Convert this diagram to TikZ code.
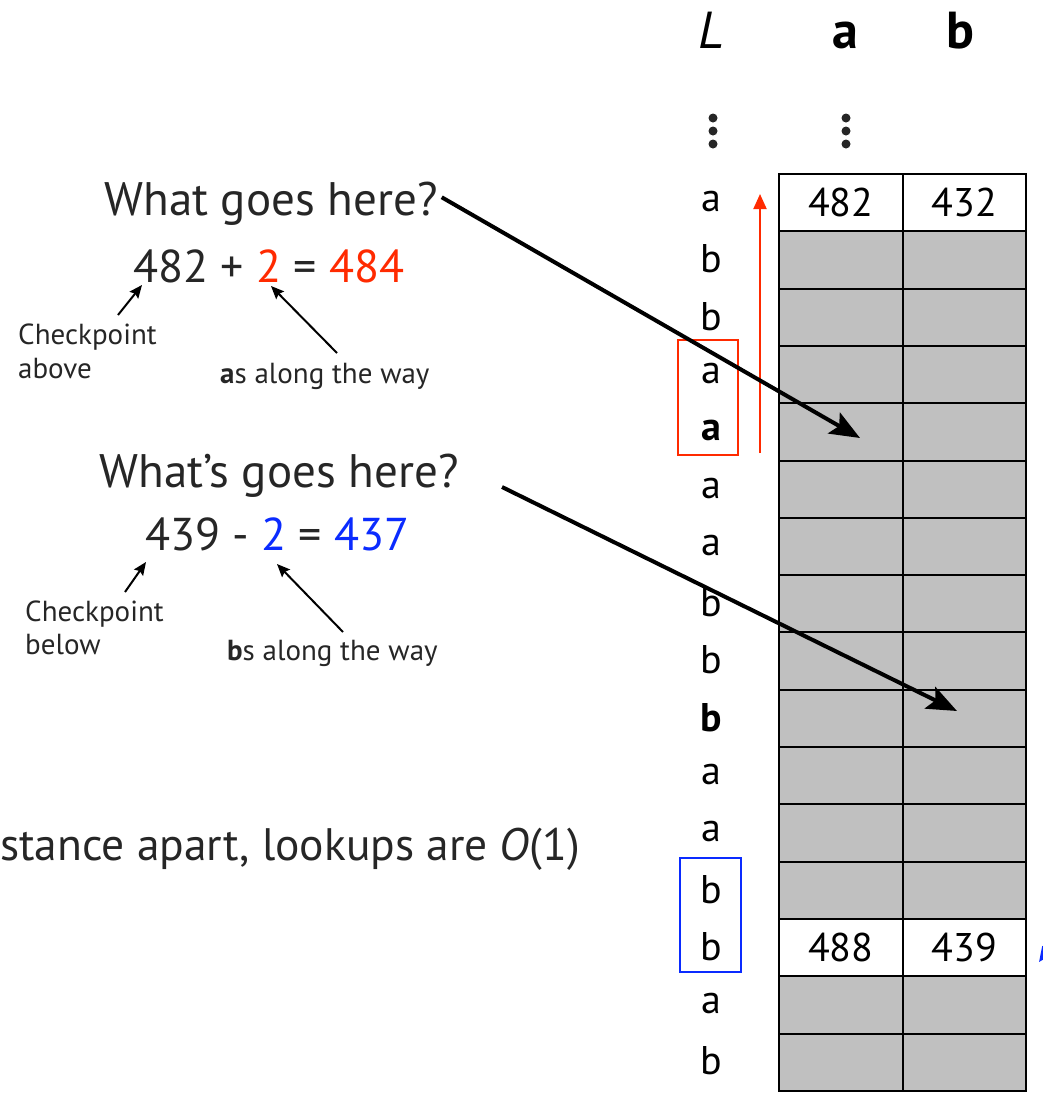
\documentclass[tikz,border=0pt]{standalone}
\usepackage{fontspec}
\setmainfont{PT Sans}
\usetikzlibrary{arrows.meta}
\definecolor{txt}{HTML}{262626}
\definecolor{cellgray}{HTML}{C0C0C0}
\definecolor{myred}{HTML}{FF2A00}
\definecolor{myblue}{HTML}{0A2BFF}
\begin{document}
\begin{tikzpicture}[x=1pt,y=-1pt,
  cell/.style={draw=black, line width=2pt, minimum width=123.5pt, minimum height=57.3pt, inner sep=0pt, anchor=north west, font=\fontsize{40}{42}\selectfont},
  graycell/.style={cell, fill=cellgray},
  whitecell/.style={cell, fill=white},
  lab/.style={inner sep=0pt, font=\fontsize{40}{42}\selectfont, text=black},
  head/.style={inner sep=0pt, anchor=base, font=\fontsize{52}{54}\selectfont, text=black},
  big/.style={inner sep=0pt, text=txt, font=\fontsize{47}{49}\selectfont},
  eqn/.style={inner sep=0pt, text=txt, font=\fontsize{46}{48}\selectfont, anchor=base west},
  small/.style={inner sep=0pt, text=txt, font=\fontsize{29}{31}\selectfont, anchor=base west},
  bigarrow/.style={line width=4pt, -{Stealth[length=30pt,width=24pt,inset=6pt]}},
  smallarrow/.style={line width=2pt, -{Stealth[length=13pt,width=11pt,inset=2pt]}},
  dot/.style={circle, fill=txt, inner sep=0pt, minimum size=9pt}]
\useasboundingbox (0,0) rectangle (1043,1093);
\clip (0,0) rectangle (1043,1093);
% header
\node[head] (hL) at (711,48) {\textit{L}};
\node[head] (ha) at (845,48) {\textbf{a}};
\node[head] (hb) at (960,48) {\textbf{b}};
% vertical ellipses
\foreach \yy [count=\k] in {118,131,144} {
  \node[dot] (dl\k) at (713,\yy) {};
  \node[dot] (da\k) at (846,\yy) {};
}
% table
\foreach \i in {1,...,16} {
  \pgfmathsetmacro{\ytop}{173+(\i-1)*57.3}
  \ifnum\i=1
    \node[whitecell] (ca\i) at (778,\ytop) {482};
    \node[whitecell] (cb\i) at (901.5,\ytop) {432};
  \else\ifnum\i=14
    \node[whitecell] (ca\i) at (778,\ytop) {488};
    \node[whitecell] (cb\i) at (901.5,\ytop) {439};
  \else
    \node[graycell] (ca\i) at (778,\ytop) {};
    \node[graycell] (cb\i) at (901.5,\ytop) {};
  \fi\fi
}
% L column letters
\foreach \t [count=\i] in {a,b,b,a,\textbf{a},a,a,b,b,\textbf{b},a,a,b,b,a,b} {
  \pgfmathsetmacro{\yc}{173+(\i-0.5)*57.3}
  \node[lab] (l\i) at (711,\yc) {\t};
}
% red box and arrow
\node[draw=myred, line width=2pt, minimum width=60pt, minimum height=115pt, inner sep=0pt] (redbox) at (708,397.5) {};
\coordinate (rs) at (760,453);
\coordinate (re) at (760,194);
\draw[myred, line width=2pt, -{Triangle[length=15pt,width=13pt]}] (rs) -- (re);
% blue box
\node[draw=myblue, line width=2pt, minimum width=61pt, minimum height=114pt, inner sep=0pt] (bluebox) at (710.5,915) {};
\coordinate (bs) at (1080,905);
\coordinate (be) at (1039,962);
\draw[myblue, line width=2pt, -{Triangle[length=15pt,width=13pt]}] (bs) -- (be);
% left texts, upper
\node[big, anchor=base] (q1) at (271,215) {What goes here?};
\node[eqn] (e1) at (133,282) {482 + {\color{myred}2} = {\color{myred}484}};
\node[small] (c1a) at (18,344) {Checkpoint};
\node[small] (c1b) at (18,378) {above};
\node[small] (w1) at (220,383) {\textbf{a}s along the way};
\coordinate (t1) at (860,438);
\draw[bigarrow] (q1.east) ++(4,-6) coordinate (q1s) (q1s) -- (t1);
\coordinate (a1s) at (118,315);
\coordinate (a1e) at (142,285);
\draw[smallarrow] (a1s) -- (a1e);
\coordinate (a2s) at (337,353);
\coordinate (a2e) at (271,286);
\draw[smallarrow] (a2s) -- (a2e);
% left texts, lower
\node[big, anchor=base] (q2) at (279,487) {What’s goes here?};
\node[eqn] (e2) at (145,550) {439 - {\color{myblue}2} = {\color{myblue}437}};
\node[small] (c2a) at (25,621) {Checkpoint};
\node[small] (c2b) at (25,654) {below};
\node[small] (w2) at (227,660) {\textbf{b}s along the way};
\coordinate (s2) at (502,487);
\coordinate (t2) at (957,711);
\draw[bigarrow] (s2) -- (t2);
\coordinate (b1s) at (125,592);
\coordinate (b1e) at (146,562);
\draw[smallarrow] (b1s) -- (b1e);
\coordinate (b2s) at (343,632);
\coordinate (b2e) at (277,564);
\draw[smallarrow] (b2s) -- (b2e);
% bottom text
\node[big, anchor=base east, font=\fontsize{45.5}{48}\selectfont] (bt) at (580,860) {stance apart, lookups are \textit{O}(1)};
\end{tikzpicture}
\end{document}
